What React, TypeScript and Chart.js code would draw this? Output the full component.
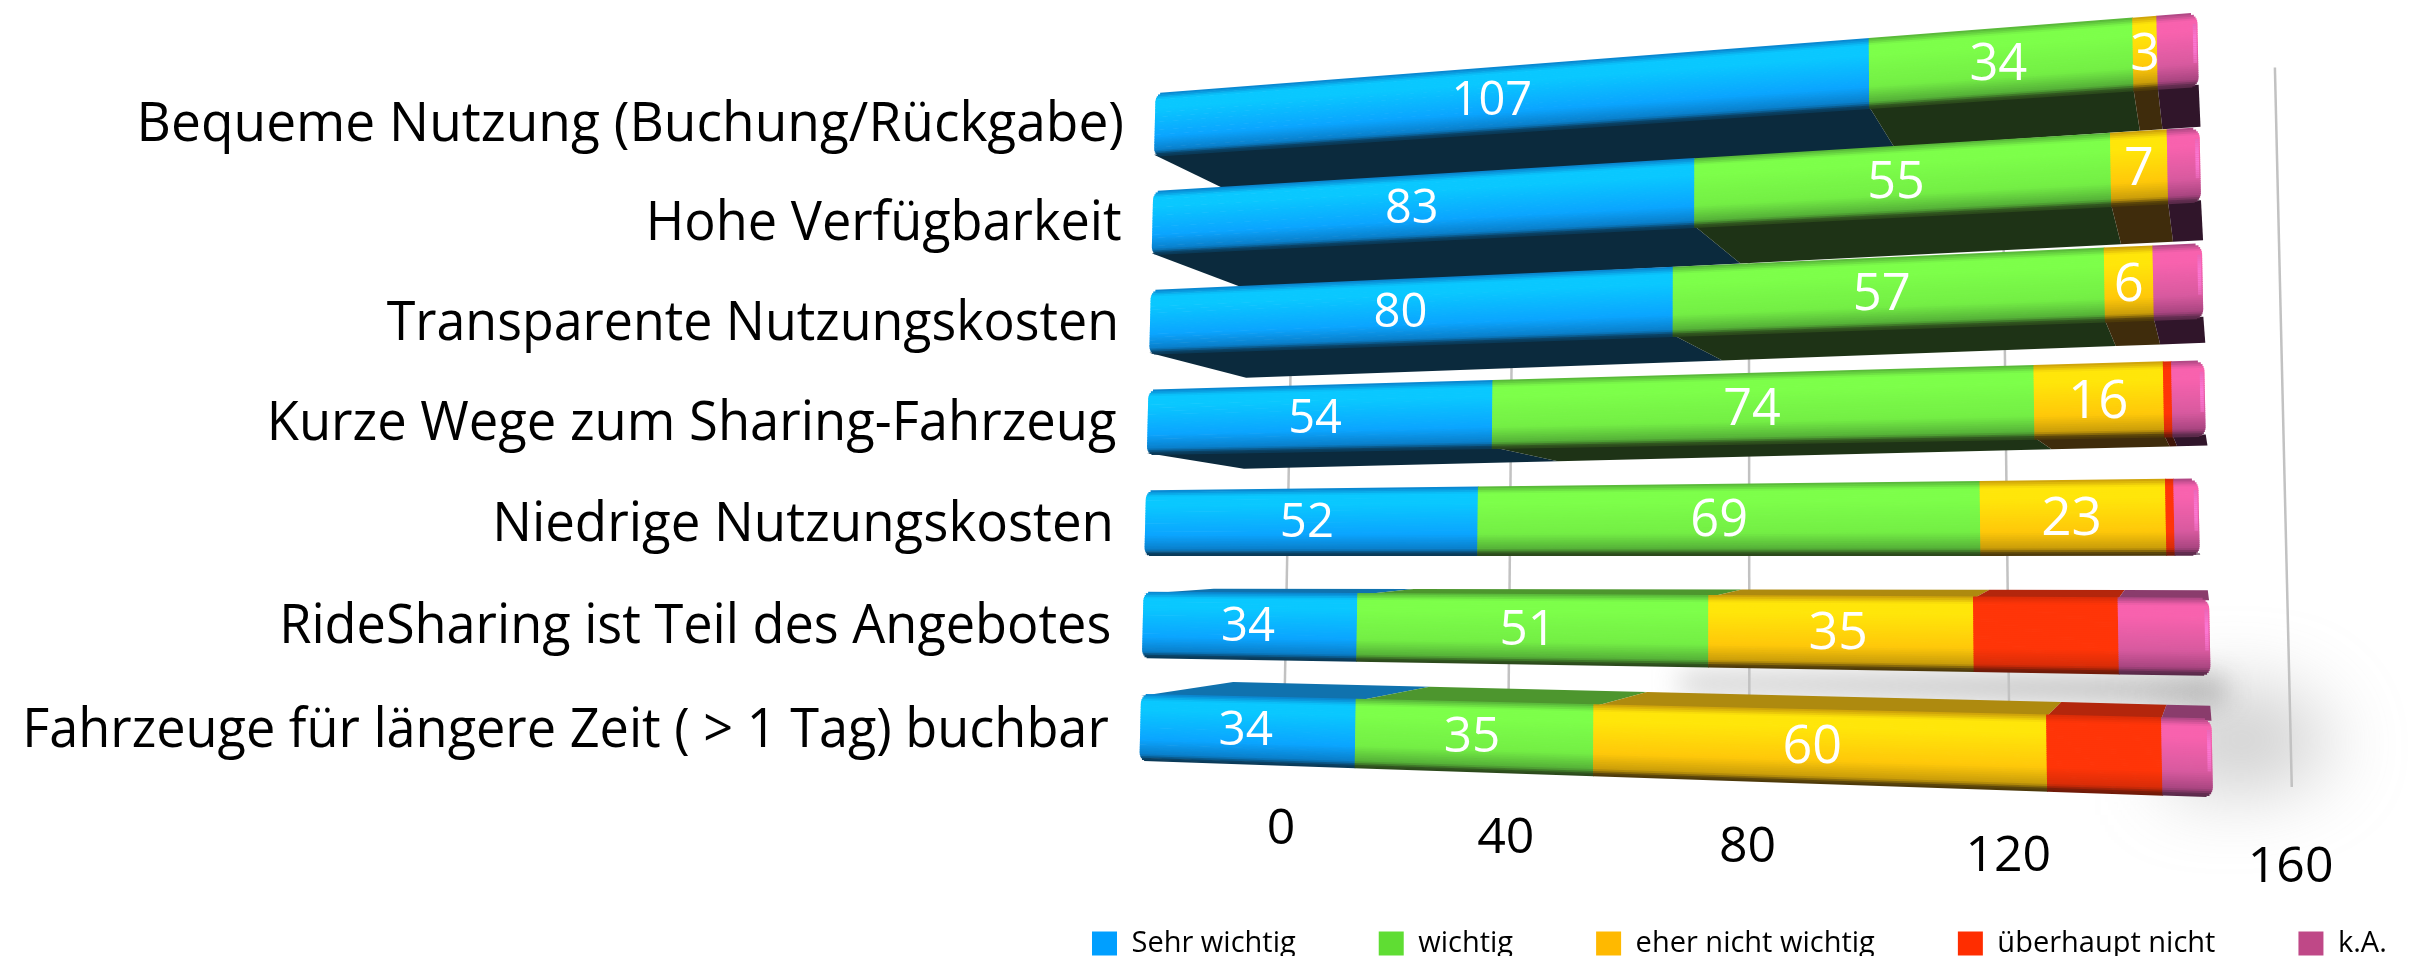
import React, { useEffect, useRef } from "react";
import { Chart, registerables } from "chart.js";

Chart.register(...registerables);

const categories = [
  "Bequeme Nutzung (Buchung/Rückgabe)",
  "Hohe Verfügbarkeit",
  "Transparente Nutzungskosten",
  "Kurze Wege zum Sharing-Fahrzeug",
  "Niedrige Nutzungskosten",
  "RideSharing ist Teil des Angebotes",
  "Fahrzeuge für längere Zeit ( > 1 Tag) buchbar",
];
const sehrWichtig = [107, 83, 80, 54, 52, 34, 34];
const wichtig = [34, 55, 57, 74, 69, 51, 35];
const eherNichtWichtig = [3, 7, 6, 16, 23, 35, 60];
const ueberhauptNicht = [0, 0, 0, 1, 1, 18, 14];
const keineAngabe = [5, 4, 6, 4, 3, 11, 6];
const axisTicks = [0, 40, 80, 120, 160];

const W = 2423;
const H = 956;
const FONT = '"Open Sans"';
const labelStretch = [0.968, 0.95, 0.944, 0.955, 0.96, 0.95, 0.95];

// Perspective of the plot plane: where the corners of the flat plot land on the page (at 150 units)
const QUAD = { tl: [1156, 76], tr: [2205, -8], br: [2222, 819], bl: [1139, 779] };
const FULL = 150;
const XMAX = 165;
// the picture's printed axis is offset against the bars: 0 sits at 23 bar units, one unit = 0.845
const AX_ZERO = 23;
const AX_UNIT = 0.845;

const shades: Record<string, any> = {
  blue: { hi: "#0ac8ff", mid: "#0ba5ff", lo: "#0a7fca", edge: "#0a3a58", under: "#0b2a3d", top: "#1072ae" },
  green: { hi: "#7dff4a", mid: "#74ee45", lo: "#55b038", edge: "#2c4a1c", under: "#1e3316", top: "#4d962e" },
  yellow: { hi: "#ffe60a", mid: "#ffc80a", lo: "#c99c0a", edge: "#4e3a0a", under: "#3f2c0c", top: "#ae8a0f" },
  red: { hi: "#ff3508", mid: "#ff3508", lo: "#d82c08", edge: "#701a08", under: "#3f1408", top: "#b3260c" },
  pink: { hi: "#f862ae", mid: "#d85a9f", lo: "#a84580", edge: "#5a2a4a", under: "#30152a", top: "#8a3c6c" },
};
const shadeKeys = ["blue", "green", "yellow", "red", "pink"];
// visible side of each bar: below (+) or above (-), at left and right, and how far it runs in
const sideLeft = [36, 35, 25, 16, 2, -5, -14];
const sideRight = [42, 40, 26, 11, 1, -10, -15];
const sideRun = [0.07, 0.087, 0.09, 0.09, 0.02, 0.065, 0.085];
const VP_X = 2225;

function hex(c: string) {
  return [1, 3, 5].map((i) => parseInt(c.slice(i, i + 2), 16));
}
function mix(a: string, b: string, k: number) {
  const A = hex(a);
  const B = hex(b);
  return `rgb(${A.map((v, i) => Math.round(v + (B[i] - v) * k)).join(",")})`;
}
function ramp(s: any, f: number) {
  const stops: [number, string][] = [
    [0, s.lo],
    [0.1, s.hi],
    [0.24, s.hi],
    [0.68, s.mid],
    [0.9, s.lo],
    [0.97, s.edge],
    [1, s.edge],
  ];
  for (let i = 1; i < stops.length; i++) {
    if (f <= stops[i][0]) {
      const k = (f - stops[i - 1][0]) / (stops[i][0] - stops[i - 1][0] || 1);
      return mix(stops[i - 1][1], stops[i][1], k);
    }
  }
  return s.edge;
}

function makeProjection(chart: any) {
  const area = chart.chartArea;
  const [x0, y0] = QUAD.tl;
  const [x1, y1] = QUAD.tr;
  const [x2, y2] = QUAD.br;
  const [x3, y3] = QUAD.bl;
  const dx1 = x1 - x2, dx2 = x3 - x2, sx = x0 - x1 + x2 - x3;
  const dy1 = y1 - y2, dy2 = y3 - y2, sy = y0 - y1 + y2 - y3;
  const den = dx1 * dy2 - dx2 * dy1;
  const g = (sx * dy2 - dx2 * sy) / den;
  const h = (dx1 * sy - sx * dy1) / den;
  const a = x1 - x0 + g * x1, b = x3 - x0 + h * x3;
  const d = y1 - y0 + g * y1, e = y3 - y0 + h * y3;
  const xs = chart.scales.x;
  const left = xs.getPixelForValue(0);
  const right = xs.getPixelForValue(FULL);
  return (px: number, py: number) => {
    const u = (px - left) / (right - left);
    const v = (py - area.top) / (area.bottom - area.top);
    const w = g * u + h * v + 1;
    return { x: (a * u + b * v + x0) / w, y: (d * u + e * v + y0) / w };
  };
}

function poly(ctx: CanvasRenderingContext2D, pts: { x: number; y: number }[], fill: string) {
  ctx.beginPath();
  pts.forEach((p, i) => (i ? ctx.lineTo(p.x, p.y) : ctx.moveTo(p.x, p.y)));
  ctx.closePath();
  ctx.fillStyle = fill;
  ctx.fill();
}

const perspectivePlugin = {
  id: "perspective",
  afterLayout(chart: any) {
    // legend starts where the reference's does, on one line
    const pad = chart.options.plugins.legend.labels.padding;
    chart.legend.left = 1092 - pad;
    chart.legend.right = W + 300;
    chart.legend.top += 14;
    chart.legend.bottom += 14;
  },
  beforeDatasetDraw() {
    return false;
  },
  beforeDatasetsDraw(chart: any) {
    const ctx: CanvasRenderingContext2D = chart.ctx;
    const P = makeProjection(chart);
    const area = chart.chartArea;
    const rowsCount = categories.length;

    // soft shadow between and right of the two lowest bars
    ctx.save();
    ctx.filter = "blur(14px)";
    poly(
      ctx,
      [
        { x: 1680, y: 676 },
        { x: 2225, y: 676 },
        { x: 2225, y: 705 },
        { x: 1680, y: 690 },
      ],
      "rgba(140,140,140,0.6)"
    );
    ctx.filter = "blur(38px)";
    poly(
      ctx,
      [
        { x: 2170, y: 690 },
        { x: 2290, y: 690 },
        { x: 2340, y: 750 },
        { x: 2280, y: 790 },
        { x: 2170, y: 790 },
      ],
      "rgba(140,140,140,0.42)"
    );
    ctx.restore();

    // grid lines of the printed axis
    const axis = chart.scales.x2;
    ctx.strokeStyle = "#c2c2c2";
    ctx.lineWidth = 2.5;
    const gy0 = area.top + 0.1 * (area.bottom - area.top);
    const gy1 = area.top + 0.96 * (area.bottom - area.top);
    axisTicks.forEach((t) => {
      const px = axis.getPixelForValue(t);
      const a = P(px, gy0);
      const b = P(px, gy1);
      ctx.beginPath();
      ctx.moveTo(a.x, a.y);
      ctx.lineTo(b.x, b.y);
      ctx.stroke();
    });

    // bars, row by row from the top
    const metas = chart.data.datasets.map((_: any, i: number) => chart.getDatasetMeta(i));
    for (let r = 0; r < rowsCount; r++) {
      const segs = metas
        .map((m: any, di: number) => ({ el: m.data[r].getProps(["x", "y", "base", "height"], true), di }))
        .filter((s: any) => Math.abs(s.el.x - s.el.base) > 0.01);
      const rowRight = Math.max(...segs.map((s: any) => s.el.x));
      const rowLeft = Math.min(...segs.map((s: any) => s.el.base));
      const endX = P(rowRight, segs[0].el.y).x;

      // side faces
      const depth = (x: number) => {
        const k = Math.min(1, Math.max(0, (x - 1200) / 1000));
        return sideLeft[r] + (sideRight[r] - sideLeft[r]) * k;
      };
      const back = (p: { x: number; y: number }) => {
        let bx = p.x + sideRun[r] * (VP_X - p.x);
        if (sideLeft[r] < 0) bx = Math.min(bx, endX - 2);
        return { x: bx, y: p.y + depth(bx) };
      };
      segs.forEach((s: any) => {
        const edgeY = sideLeft[r] > 0 ? s.el.y + s.el.height / 2 - 2 : s.el.y - s.el.height / 2 + 2;
        const a = P(s.el.base, edgeY);
        const b = P(s.el.x, edgeY);
        const sh = shades[shadeKeys[s.di]];
        poly(ctx, [a, b, back(b), back(a)], sideLeft[r] > 0 ? sh.under : sh.top);
      });

      // front faces as fine bands
      const N = 40;
      segs.forEach((s: any) => {
        const sh = shades[shadeKeys[s.di]];
        const top = s.el.y - s.el.height / 2;
        const hgt = s.el.height;
        const isLast = s.el.x >= rowRight - 0.01;
        for (let i = 0; i < N; i++) {
          const f = i / N;
          const fm = f + 0.5 / N;
          const y0 = top + f * hgt;
          const y1 = top + ((i + 1) / N) * hgt + (i < N - 1 ? 0.7 : 0);
          const edge = Math.min(fm, 1 - fm) * hgt;
          const rad = 9;
          const inset = edge < rad ? rad - Math.sqrt(rad * rad - (rad - edge) * (rad - edge)) : 0;
          const xL = s.el.base <= rowLeft + 0.01 ? s.el.base + inset : s.el.base;
          const xR = isLast ? s.el.x - inset : s.el.x + 0.6;
          poly(ctx, [P(xL, y0), P(xR, y0), P(xR, y1), P(xL, y1)], ramp(sh, fm));
          if (isLast && fm > 0.14 && fm < 0.68) {
            // rounded-end highlight
            const lift = Math.sin(((fm - 0.14) / 0.54) * Math.PI) * 0.5;
            poly(
              ctx,
              [P(xR - 4, y0), P(xR - 1, y0), P(xR - 1, y1), P(xR - 4, y1)],
              mix("#d85a9f", "#ff7ad8", lift + 0.4)
            );
          }
        }
      });
    }
  },
  afterDatasetsDraw(chart: any) {
    const ctx: CanvasRenderingContext2D = chart.ctx;
    const P = makeProjection(chart);
    const area = chart.chartArea;
    const yScale = chart.scales.y;
    const metas = chart.data.datasets.map((_: any, i: number) => chart.getDatasetMeta(i));

    // value labels of the first three series
    ctx.fillStyle = "#ffffff";
    ctx.textAlign = "center";
    ctx.textBaseline = "alphabetic";
    [0, 1, 2].forEach((di) => {
      metas[di].data.forEach((bar: any, r: number) => {
        const el = bar.getProps(["x", "y", "base", "height"], true);
        const mx = (el.x + el.base) / 2;
        const a = P(mx, el.y - el.height / 2);
        const b = P(mx, el.y + el.height / 2);
        const c = P(mx, el.y);
        const size = Math.abs(b.y - a.y) * 0.7;
        ctx.font = `${size}px ${FONT}`;
        ctx.fillText(String(chart.data.datasets[di].data[r]), c.x, c.y - 2 + size * 0.357);
      });
    });

    // category labels
    ctx.fillStyle = "#000000";
    ctx.textAlign = "right";
    ctx.font = `55px ${FONT}`;
    categories.forEach((label, i) => {
      const py = yScale.getPixelForValue(i);
      const p = P(chart.scales.x.getPixelForValue(0) - 36, py);
      ctx.save();
      ctx.translate(p.x, p.y + 14 + i);
      ctx.scale(labelStretch[i], 1);
      ctx.fillText(label, 0, 0);
      ctx.restore();
    });

    // printed axis labels
    ctx.textAlign = "center";
    ctx.font = `50px ${FONT}`;
    axisTicks.forEach((t) => {
      const b = P(chart.scales.x2.getPixelForValue(t), area.bottom);
      ctx.fillText(String(t), b.x - 2, b.y + 60);
    });
  },
};

export default function App() {
  const ref = useRef<HTMLCanvasElement | null>(null);
  useEffect(() => {
    const series = [sehrWichtig, wichtig, eherNichtWichtig, ueberhauptNicht, keineAngabe];
    const names = ["Sehr wichtig", "wichtig", "eher nicht wichtig", "überhaupt nicht", "k.A."];
    const legendColors = ["#009fff", "#5fdd33", "#ffb900", "#ff2d00", "#bf4887"];
    const chart = new Chart(ref.current as HTMLCanvasElement, {
      type: "bar",
      data: {
        labels: categories,
        datasets: series.map((data, i) => ({
          label: names[i],
          data,
          backgroundColor: legendColors[i],
          borderWidth: 0,
          xAxisID: "x",
          yAxisID: "y",
          stack: "all",
          categoryPercentage: 1,
          barPercentage: 0.65,
        })),
      },
      options: {
        indexAxis: "y",
        animation: false,
        responsive: false,
        devicePixelRatio: 1,
        layout: { padding: { top: 76, right: 122, bottom: 2, left: 0 } },
        scales: {
          x: {
            type: "linear",
            stacked: true,
            min: 0,
            max: XMAX,
            position: "bottom",
            grid: { display: false },
            border: { display: false },
            ticks: { display: false },
            afterFit: (s: any) => {
              s.height = 65;
            },
          },
          x2: {
            type: "linear",
            display: false,
            position: "bottom",
            min: (0 - AX_ZERO) / AX_UNIT,
            max: (XMAX - AX_ZERO) / AX_UNIT,
            afterBuildTicks: (s: any) => {
              s.ticks = axisTicks.map((value) => ({ value }));
            },
          },
          y: {
            type: "category",
            stacked: true,
            grid: { display: false },
            border: { display: false },
            ticks: { display: false },
            afterFit: (s: any) => {
              s.width = 1156;
            },
          },
        },
        plugins: {
          tooltip: { enabled: false },
          legend: {
            display: true,
            position: "bottom",
            align: "start",
            fullSize: true,
            labels: {
              boxWidth: 25,
              boxHeight: 24,
              padding: 83,
              color: "#000000",
              font: { family: "Open Sans", size: 29 },
            },
          },
        },
      },
      plugins: [perspectivePlugin],
    } as any);
    return () => chart.destroy();
  }, []);
  return (
    <canvas
      ref={ref}
      width={W}
      height={H}
      style={{ position: "fixed", left: 0, top: 0, width: W, height: H, display: "block", background: "#ffffff" }}
    />
  );
}
